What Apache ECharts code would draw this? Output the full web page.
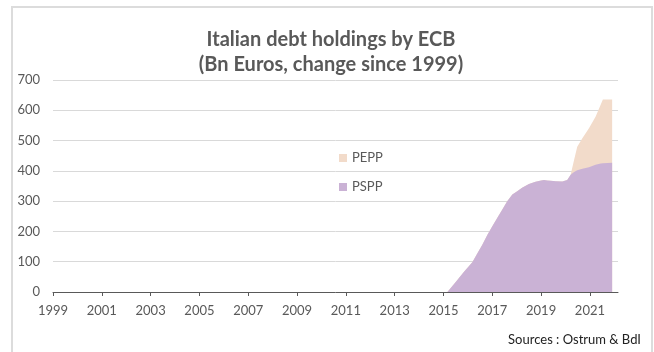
<!DOCTYPE html>
<html>
<head>
<meta charset="utf-8">
<script src="https://cdn.jsdelivr.net/npm/echarts@6/dist/echarts.min.js"></script>
<style>
html,body{margin:0;padding:0;background:#fff;}
#chart{width:654px;height:352px;}
</style>
</head>
<body>
<div id="chart"></div>
<script>
// Time points (decimal years)
const years = [1999.0, 2015.16, 2015.5, 2015.84, 2016.18, 2016.39, 2016.59, 2016.8, 2017.0, 2017.2, 2017.41, 2017.61, 2017.82, 2018.02, 2018.22, 2018.5, 2018.77, 2019.0, 2019.12, 2019.25, 2019.39, 2019.6, 2019.87, 2020.07, 2020.21, 2020.35, 2020.48, 2020.69, 2020.96, 2021.23, 2021.44, 2021.53, 2021.91];
// PSPP holdings (Bn EUR)
const pspp = [0, 0, 33, 67, 98, 128, 156, 189, 217, 244, 272, 300, 322, 333, 344, 357, 364, 368, 370, 368, 367, 366, 365, 370, 387, 396, 402, 407, 412, 420, 424, 425, 427];
// PEPP holdings (Bn EUR)
const pepp = [0, 0, 0, 0, 0, 0, 0, 0, 0, 0, 0, 0, 0, 0, 0, 0, 0, 0, 0, 0, 0, 0, 0, 0, 0, 40, 78, 101, 129, 159, 194, 211, 209];
// X tick labels
const xTickYears = [1999, 2001, 2003, 2005, 2007, 2009, 2011, 2013, 2015, 2017, 2019, 2021];

const chart = echarts.init(document.getElementById('chart'));
const font = 'Lato, "Open Sans", sans-serif';
const gray = '#595959';
const psppColor = '#CAB2D5';
const peppColor = '#F2DBCA';

// stacked total (PSPP + PEPP) for the upper band
const total = pspp.map((v, i) => v + pepp[i]);

chart.setOption({
  animation: false,
  textStyle: {fontFamily: font},
  graphic: [
    {type: 'rect', shape: {x: 12, y: 7, width: 640, height: 360}, style: {fill: 'none', stroke: '#dcdcdc', lineWidth: 2}, silent: true},
    {type: 'text', x: 331, y: 30, style: {text: 'Italian debt holdings by ECB', fill: gray, font: 'bold 20px ' + font, textAlign: 'center'}},
    {type: 'text', x: 331, y: 55, style: {text: '(Bn Euros, change since 1999)', fill: gray, font: 'bold 20px ' + font, textAlign: 'center'}},
    {type: 'text', right: 13, top: 333, style: {text: 'Sources : Ostrum & BdI', fill: '#222', font: '13px ' + font}}
  ],
  legend: {
    orient: 'vertical',
    left: 334,
    top: 146,
    itemWidth: 8,
    itemHeight: 8,
    itemGap: 15,
    icon: 'rect',
    data: ['PEPP', 'PSPP'],
    textStyle: {color: gray, fontSize: 13, lineHeight: 14, fontFamily: font}
  },
  grid: {left: 53, right: 36, top: 80, bottom: 60, containLabel: false},
  xAxis: {
    type: 'value',
    min: 1999,
    max: 2022.15,
    splitLine: {show: false},
    axisLine: {show: true, lineStyle: {color: gray, width: 1}},
    axisTick: {show: true, length: 4, customValues: xTickYears, lineStyle: {color: gray}},
    axisLabel: {customValues: xTickYears, color: gray, fontSize: 13, margin: 12, formatter: v => String(v)}
  },
  yAxis: {
    type: 'value',
    min: 0,
    max: 700,
    interval: 100,
    axisLine: {show: false},
    axisTick: {show: false},
    axisLabel: {color: gray, fontSize: 13, margin: 13},
    splitLine: {lineStyle: {color: '#d9d9d9', width: 1}}
  },
  series: [
    {
      name: 'PEPP', type: 'line', showSymbol: false, symbol: 'none', z: 2,
      lineStyle: {width: 0}, itemStyle: {color: peppColor},
      areaStyle: {color: peppColor, opacity: 1},
      data: years.map((y, i) => [y, total[i]])
    },
    {
      name: 'PSPP', type: 'line', showSymbol: false, symbol: 'none', z: 3,
      lineStyle: {width: 0}, itemStyle: {color: psppColor},
      areaStyle: {color: psppColor, opacity: 1},
      data: years.map((y, i) => [y, pspp[i]])
    }
  ]
});
</script>
</body>
</html>
